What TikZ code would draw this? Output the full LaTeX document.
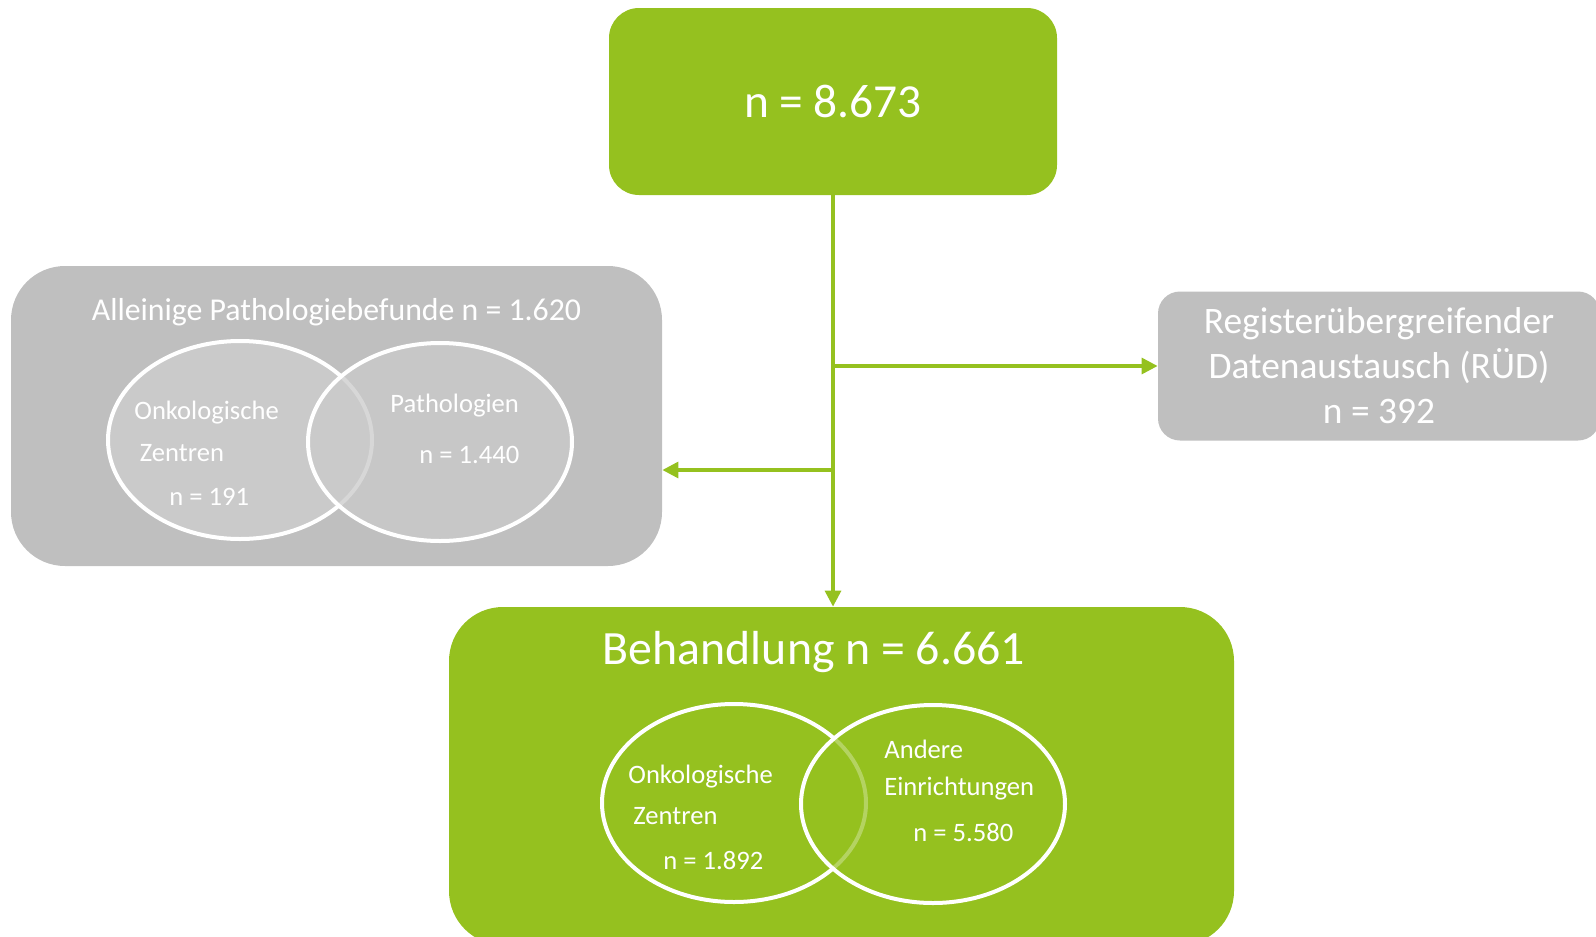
\documentclass[tikz,border=0pt]{standalone}
\usepackage{fontspec}
\setmainfont{Carlito}
\usetikzlibrary{arrows.meta}
\definecolor{lime}{HTML}{95C11F}
\definecolor{boxgray}{HTML}{BFBFBF}
\definecolor{venngray}{HTML}{CACACA}

\begin{document}
\begin{tikzpicture}[x=0.5pt,y=-0.5pt,
    greenbox/.style={fill=lime,inner sep=0pt,text=white},
    graybox/.style={fill=boxgray,inner sep=0pt,text=white},
    flow/.style={draw=lime,line width=1.6pt,-{Triangle[length=8pt,width=8pt]}},
    venn/.style={draw=white,line width=2pt},
    vtext/.style={text=white,anchor=west,inner sep=0pt,font=\fontsize{13.3}{16}\selectfont}]
  \useasboundingbox (0,0) rectangle (1596,937);

  %boxes
  \node[greenbox,minimum width=224pt,minimum height=93.5pt,rounded corners=15pt,
        font=\fontsize{23.7}{28}\selectfont] (total) at (833,101.5) {n = 8.673};
  \node[graybox,minimum width=325.5pt,minimum height=150pt,rounded corners=27pt] (pathbox) at (336.5,416) {};
  \node[graybox,minimum width=221pt,minimum height=74.5pt,rounded corners=11pt,align=center,
        font=\fontsize{18.7}{22.5}\selectfont] (rud) at (1379,366)
        {Registerübergreifender\\Datenaustausch (RÜD)\\n = 392};
  \node[greenbox,minimum width=392.5pt,minimum height=169pt,rounded corners=27pt] (treat) at (841.5,776) {};

  %titles
  \node[text=white,font=\fontsize{15.9}{19}\selectfont] (pathtitle) at (336.5,312.5)
        {Alleinige Pathologiebefunde n = 1.620};
  \node[text=white,font=\fontsize{23.9}{28}\selectfont] (treattitle) at (814,652)
        {Behandlung n = 6.661};

  %arrows
  \draw[flow] (total.south) -- (total.south |- treat.north);
  \draw[flow] (total.south |- rud.west) -- (rud.west);
  \coordinate (lsplit) at (total.south |- 0,470);
  \draw[flow] (lsplit) -- (pathbox.east |- lsplit);

  %venn pathology
  \draw[venn,fill=venngray] (240,440) ellipse [x radius=66pt,y radius=49.5pt];
  \draw[venn,fill=venngray,fill opacity=0.75] (440,442) ellipse [x radius=66pt,y radius=49.5pt];
  \node[vtext] (pathonko) at (134,413) {Onkologische};
  \node[vtext] (pathzent) at (139.5,453) {Zentren};
  \node[vtext] (pathonkon) at (169,497) {n = 191};
  \node[vtext] (pathpat) at (390,406) {Pathologien};
  \node[vtext] (pathpatn) at (419,455) {n = 1.440};

  %venn treatment
  \draw[venn] (734,803) ellipse [x radius=66pt,y radius=49.5pt];
  \draw[venn,fill=lime,fill opacity=0.7] (933,804) ellipse [x radius=66pt,y radius=49.5pt];
  \node[vtext] (treatonko) at (628,777) {Onkologische};
  \node[vtext] (treatzent) at (633,816) {Zentren};
  \node[vtext] (treatonkon) at (663,861) {n = 1.892};
  \node[vtext] (treatother) at (884,749) {Andere};
  \node[vtext] (treateinr) at (884,789) {Einrichtungen};
  \node[vtext] (treatothern) at (913,833) {n = 5.580};
\end{tikzpicture}
\end{document}
